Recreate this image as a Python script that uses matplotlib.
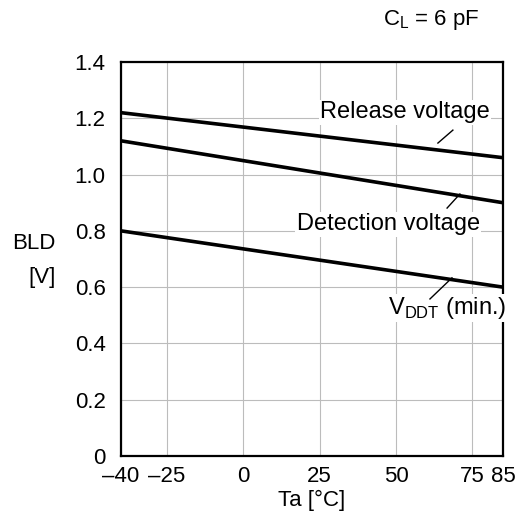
import matplotlib.pyplot as plt

plt.rcParams['font.family'] = ['Liberation Sans', 'DejaVu Sans']

# data
ta = [-40, 85]
release_v = [1.22, 1.06]
detection_v = [1.12, 0.90]
vddt_min = [0.80, 0.60]

xticks = [-40, -25, 0, 25, 50, 75, 85]
xticklabels = ["\u201340", "\u201325", "0", "25", "50", "75", "85"]
yticks = [0, 0.2, 0.4, 0.6, 0.8, 1.0, 1.2, 1.4]
yticklabels = ["0", "0.2", "0.4", "0.6", "0.8", "1.0", "1.2", "1.4"]

fs = 16
fig = plt.figure(figsize=(5.32, 5.26), dpi=100)
ax = fig.add_axes([0.2274, 0.1331, 0.7181, 0.749])

for y in (release_v, detection_v, vddt_min):
    ax.plot(ta, y, color="black", lw=2.6, solid_capstyle="butt", zorder=3)

ax.set_xlim(-40, 85)
ax.set_ylim(0, 1.4)
ax.set_xticks(xticks)
ax.set_xticklabels(xticklabels)
ax.set_yticks(yticks)
ax.set_yticklabels(yticklabels)
ax.tick_params(length=0, labelsize=fs)
ax.tick_params(axis="x", pad=7)
ax.tick_params(axis="y", pad=11)
ax.grid(True, color="#bcbcbc", lw=0.8)
for s in ax.spines.values():
    s.set_linewidth(1.6)

ax.set_xlabel("Ta [\u00b0C]", fontsize=fs, labelpad=2)
fig.text(0.105, 0.538, "BLD", fontsize=fs, ha="right", va="center")
fig.text(0.105, 0.472, "[V]", fontsize=fs, ha="right", va="center")
fig.text(0.72, 0.962, "C$_\\mathregular{L}$ = 6 pF", fontsize=fs, ha="left", va="center")

afs = 17
box = dict(facecolor="white", edgecolor="none", pad=1)
ax.text(52.9, 1.222, "Release voltage", fontsize=afs, ha="center", va="center", bbox=box, zorder=4)
ax.text(47.4, 0.824, "Detection voltage", fontsize=afs, ha="center", va="center", bbox=box, zorder=4)
ax.text(66.7, 0.526, "V$_\\mathregular{DDT}$ (min.)", fontsize=afs, ha="center", va="center", bbox=box, zorder=4)

# leader lines
ax.plot([63.7, 68.6], [1.112, 1.158], color="black", lw=1, zorder=4)
ax.plot([66.7, 70.9], [0.881, 0.931], color="black", lw=1, zorder=4)
ax.plot([61.1, 68.3], [0.558, 0.633], color="black", lw=1, zorder=4)

fig.savefig("out.png", dpi=100)
